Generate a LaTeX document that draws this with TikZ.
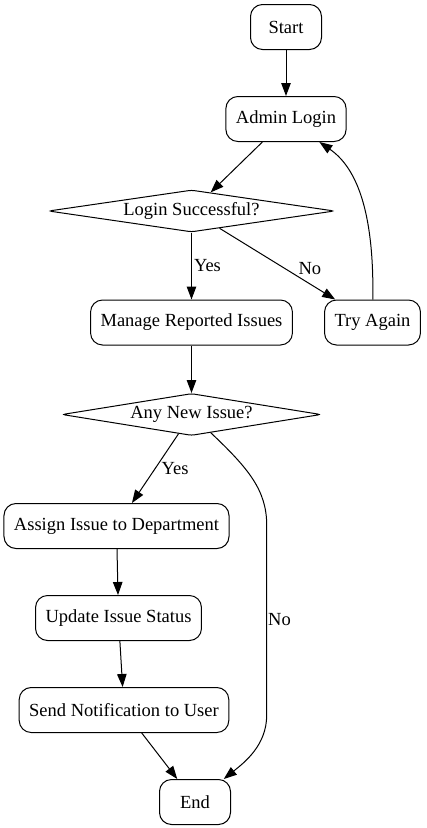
\documentclass[tikz,border=0pt]{standalone}
\usepackage{fontspec}
\setmainfont{Liberation Serif}
\usetikzlibrary{arrows.meta,shapes.geometric}

\begin{document}
\begin{tikzpicture}[auto,node distance=92pt,
                main/.style = {draw, rounded corners=12pt, minimum width=71pt, minimum height=45pt, inner xsep=10pt},
                decide/.style = {draw, diamond, aspect=6.5, inner sep=0pt, minimum height=42pt, rounded corners=3pt},
                every node/.style = {font=\fontsize{18.5pt}{22pt}\selectfont},
                every path/.style = {line width=1pt}]
                \useasboundingbox (0,0) rectangle (427pt,-828pt);
                \node[main] (1) at (286pt,-27pt) {Start};
                \node[main] (2) [below of=1] {Admin Login};
                \node[decide, minimum width=286pt] (3) [below of=2, xshift=-94.5pt] {Login Successful?};
                \node[main] (4) [below of=3, node distance=111.5pt] {Manage Reported Issues};
                \node[main] (5) [right of=4, node distance=181pt] {Try Again};
                \node[decide, minimum width=259pt] (6) [below of=4] {Any New Issue?};
                \node[main] (7) [below of=6, node distance=111.5pt, xshift=-75pt] {Assign Issue to Department};
                \node[main] (8) [below of=7, xshift=2pt] {Update Issue Status};
                \node[main] (9) [below of=8, xshift=5.5pt] {Send Notification to User};
                \node[main] (10) [below of=9, xshift=71pt] {End};
                \path[-{Triangle[length=13pt,width=9.5pt]}]
                    (1) edge (2)
                    (2) edge (3)
                    (3) edge node [right, inner sep=2pt] {Yes} (4)
                    (3) edge node [pos=0.67, above right, inner sep=1pt] {No} (5)
                    (4) edge (6)
                    (6) edge node [right, inner sep=6pt] {Yes} (7)
                    (7) edge (8)
                    (8) edge (9)
                    (9) edge (10);
                \draw[-{Triangle[length=13pt,width=9.5pt]}] (5) .. controls (374pt,-220pt) and (360pt,-170pt) .. (2);
                \draw[-{Triangle[length=13pt,width=9.5pt]}] (6) .. controls (248pt,-468pt) and (266.7pt,-490pt) .. (266.7pt,-525pt)
                    -- node [right, inner sep=1pt] {No} (266.7pt,-715pt)
                    .. controls (266.7pt,-745pt) and (245pt,-762pt) .. (10);
            \end{tikzpicture}
\end{document}
